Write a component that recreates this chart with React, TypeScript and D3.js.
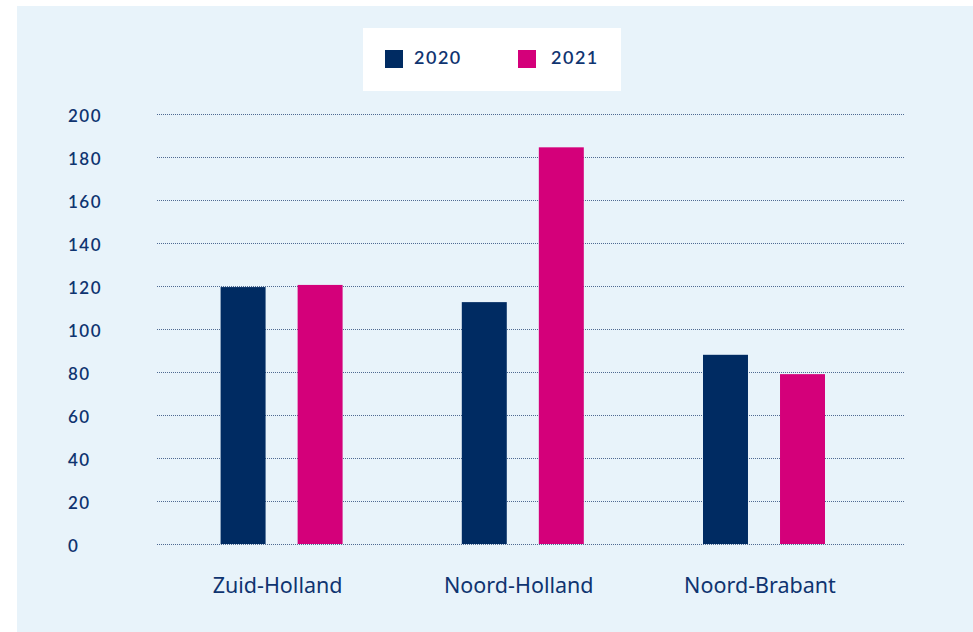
import React, { useEffect, useRef } from 'react'
import * as d3 from 'd3'

const provinces = ['Zuid-Holland', 'Noord-Holland', 'Noord-Brabant']
const seriesNames = ['2020', '2021']
const values2020 = [119.5, 112.5, 88]
const values2021 = [120.5, 184.5, 79]
const yTicks = [0, 20, 40, 60, 80, 100, 120, 140, 160, 180, 200]

const NAVY = '#002b62'
const MAGENTA = '#d4007a'
const TEXT = '#0f3470'

function App() {
    const ref = useRef<SVGSVGElement>(null)

    useEffect(() => {
        const svg = d3.select(ref.current)
        svg.selectAll('*').remove()

        const WIDTH = 973, HEIGHT = 632
        const font = '"Noto Sans", "Open Sans", sans-serif'

        // background panel
        svg.append('rect')
            .attr('x', 17).attr('y', 6)
            .attr('width', WIDTH - 17).attr('height', HEIGHT - 6)
            .attr('fill', '#e8f3fa')

        const x = d3.scaleBand().domain(provinces).range([157, 880.6])
        const inner = d3.scaleBand().domain(seriesNames).range([0, 122]).paddingInner(0.416)
        const y = d3.scaleLinear().domain([0, 200]).range([544, 114])

        // gridlines
        svg.append('g')
            .selectAll('line')
            .data(yTicks)
            .join('line')
            .attr('x1', 157).attr('x2', 905)
            .attr('y1', d => y(d) + 0.5).attr('y2', d => y(d) + 0.5)
            .attr('stroke', '#4f6a92')
            .attr('stroke-width', 1)
            .attr('stroke-dasharray', '1 1')

        // y labels
        svg.append('g')
            .selectAll('text')
            .data(yTicks)
            .join('text')
            .attr('x', 68)
            .attr('y', d => y(d) + 7.5)
            .attr('fill', TEXT)
            .style('font-family', 'Lato, sans-serif')
            .style('font-size', '17px')
            .style('font-weight', 600)
            .style('letter-spacing', '1.5px')
            .text(d => d)

        const series = [
            { name: '2020', values: values2020, color: NAVY },
            { name: '2021', values: values2021, color: MAGENTA },
        ]

        series.forEach(s => {
            svg.append('g')
                .selectAll('rect')
                .data(s.values)
                .join('rect')
                .attr('x', (d, i) => (x(provinces[i]) as number) + x.bandwidth() / 2 - 57 + (inner(s.name) as number))
                .attr('y', d => y(d))
                .attr('width', inner.bandwidth())
                .attr('height', d => y(0) - y(d))
                .attr('fill', s.color)
        })

        // x labels
        svg.append('g')
            .selectAll('text')
            .data(provinces)
            .join('text')
            .attr('x', d => (x(d) as number) + x.bandwidth() / 2)
            .attr('y', 593)
            .attr('text-anchor', 'middle')
            .attr('fill', TEXT)
            .style('font-family', font)
            .style('font-size', '21.5px')
            .text(d => d)

        // legend
        const legend = svg.append('g')
        legend.append('rect')
            .attr('x', 363).attr('y', 28)
            .attr('width', 258).attr('height', 63)
            .attr('fill', '#ffffff')
        const legendX = [385, 518]
        series.forEach((s, i) => {
            legend.append('rect')
                .attr('x', legendX[i]).attr('y', 50)
                .attr('width', 18).attr('height', 18)
                .attr('fill', s.color)
            legend.append('text')
                .attr('x', legendX[i] + (i === 0 ? 29 : 33))
                .attr('y', 64)
                .attr('fill', TEXT)
                .style('font-family', 'Lato, sans-serif')
                .style('font-size', '18px')
                .style('font-weight', 600)
                .style('letter-spacing', '1.5px')
                .text(s.name)
        })
    }, [])

    return <svg ref={ref} width={973} height={632}
                style={{ position: 'absolute', left: 0, top: 0 }} />
}

export default App
